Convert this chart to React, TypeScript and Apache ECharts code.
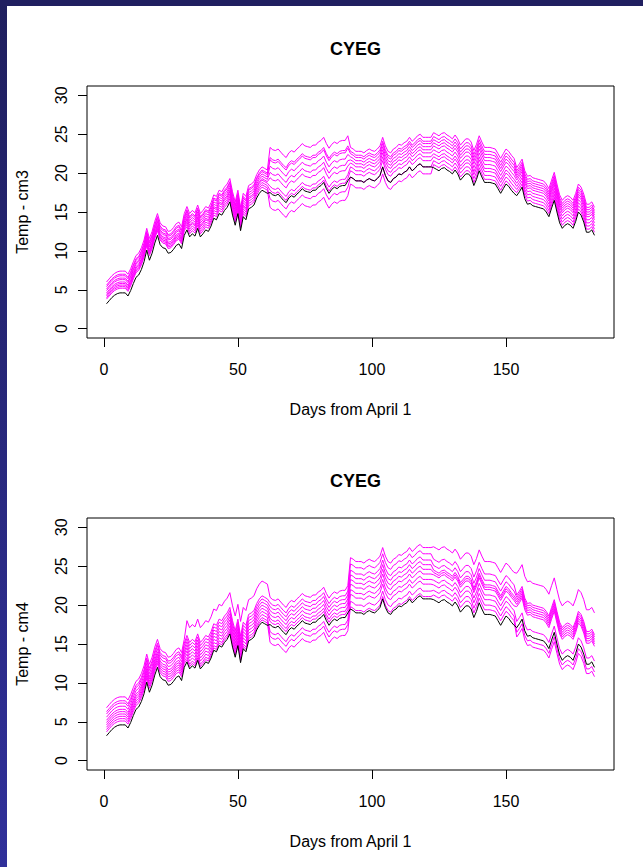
import React, { useEffect, useRef } from "react";
import * as echarts from "echarts";

// Observed daily temperature (black line), days 1..183 from April 1
const observed = [
  3.2, 3.6, 4.0, 4.3, 4.5, 4.6, 4.6, 4.6, 4.2, 4.9,
  5.8, 6.6, 6.9, 7.6, 8.6, 10.1, 8.8, 9.7, 11.0, 12.0,
  10.8, 10.4, 10.3, 9.7, 9.8, 10.2, 10.7, 10.9, 10.3, 12.0,
  12.7, 11.8, 12.2, 11.9, 12.9, 11.8, 12.2, 12.7, 12.5, 13.2,
  14.2, 14.0, 14.8, 14.6, 15.2, 15.6, 16.3, 14.6, 13.3, 14.8,
  12.6, 14.4, 14.0, 15.4, 15.6, 15.9, 16.8, 17.4, 17.8, 17.6,
  17.4, 17.5, 17.2, 17.1, 17.3, 16.9, 16.5, 16.2, 16.8, 17.1,
  16.9, 17.3, 17.6, 18.0, 17.7, 17.6, 17.5, 17.8, 17.8, 18.2,
  18.4, 18.8, 18.0, 17.4, 17.9, 18.2, 18.0, 18.3, 18.4, 18.4,
  19.0, 19.5, 19.3, 19.0, 19.0, 19.0, 18.8, 19.1, 19.3, 19.1,
  19.0, 19.3, 19.7, 20.8, 19.7, 19.0, 18.8, 19.3, 19.5, 19.9,
  19.8, 20.1, 20.3, 20.8, 20.3, 20.6, 21.0, 21.2, 20.8, 20.8,
  20.8, 20.8, 20.7, 20.5, 20.3, 20.6, 20.7, 20.4, 20.2, 19.9,
  20.4, 19.9, 19.1, 19.5, 19.9, 19.9, 19.5, 18.4, 19.2, 20.3,
  19.5, 18.8, 18.8, 18.8, 18.7, 18.6, 18.0, 17.4, 18.0, 18.6,
  18.3, 17.8, 17.4, 17.1, 17.6, 18.2, 16.7, 16.0, 16.1, 15.8,
  15.7, 15.6, 15.5, 15.4, 15.0, 14.4, 15.5, 16.5, 15.0, 13.6,
  12.9, 13.3, 13.5, 13.3, 12.9, 13.8, 15.0, 14.6, 13.7, 12.4,
  12.4, 12.7, 12.0,
];

// Last day of each month (Apr..Sep), counted from April 1
const monthEnds = [30, 61, 91, 122, 153, 183];

// Monthly change (deg) per scenario, Apr..Sep
const deltasCm3 = [
  [2.8, 3.0, 5.8, 3.8, 4.5, 3.6],
  [2.4, 2.6, 4.5, 3.3, 4.0, 3.2],
  [2.2, 2.4, 4.2, 3.0, 3.6, 2.9],
  [1.9, 2.1, 3.4, 2.6, 3.2, 2.6],
  [1.7, 1.8, 2.6, 2.2, 2.8, 2.3],
  [1.4, 1.5, 1.9, 1.8, 2.3, 2.0],
  [1.2, 1.3, 0.8, 1.3, 1.8, 1.6],
  [1.0, 1.0, 0.3, 0.8, 1.4, 1.2],
  [0.8, 0.7, -0.8, 0.0, 0.9, 0.8],
  [0.6, 0.4, -1.9, -0.9, 0.4, 0.4],
];
const deltasCm4 = [
  [3.6, 5.3, 3.5, 6.6, 6.8, 7.0],
  [3.1, 3.4, 2.8, 5.8, 5.2, 4.2],
  [2.8, 3.0, 2.3, 5.0, 4.4, 3.9],
  [2.4, 2.6, 1.8, 4.4, 3.8, 3.6],
  [2.0, 2.2, 1.3, 3.8, 3.5, 3.3],
  [1.7, 1.8, 0.8, 3.2, 3.2, 3.0],
  [1.4, 1.4, 0.4, 2.5, 2.5, 2.7],
  [1.1, 1.0, -0.9, 1.9, 1.9, 0.8],
  [0.8, 0.6, -1.5, 1.0, 1.2, -0.6],
  [0.5, 0.3, -2.3, 0.3, 0.6, -1.2],
];

const xTicks = [0, 50, 100, 150];
const yTicks = [0, 5, 10, 15, 20, 25, 30];
const titles = ["CYEG", "CYEG"];
const yNames = ["Temp - cm3", "Temp - cm4"];
const xName = "Days from April 1";

const FONT = "'Liberation Sans', Arial, Helvetica, sans-serif";

function monthOf(day: number) {
  for (let m = 0; m < monthEnds.length; m++) if (day <= monthEnds[m]) return m;
  return monthEnds.length - 1;
}

export default function App() {
  const ref = useRef<HTMLDivElement>(null);
  useEffect(() => {
    if (!ref.current) return;
    const chart = echarts.init(ref.current, null, { renderer: "svg" });
    const panels = [deltasCm3, deltasCm4];
    const tops = [86, 518];
    const grids: any[] = [];
    const xAxes: any[] = [];
    const yAxes: any[] = [];
    const series: any[] = [];
    const title: any[] = [];
    panels.forEach((deltas, p) => {
      grids.push({
        left: 87, top: tops[p], width: 527, height: 252,
        show: true, borderColor: "#000", borderWidth: 1, backgroundColor: "transparent",
      });
      title.push({
        text: titles[p], left: 350.5, top: tops[p] - 51, textAlign: "center",
        textStyle: { fontFamily: FONT, fontSize: 18, fontWeight: "bold", color: "#000" },
      });
      xAxes.push({
        gridIndex: p, type: "value", min: -6.28, max: 190.28,
        splitLine: { show: false }, axisLine: { show: false, onZero: false },
        axisTick: { show: true, customValues: xTicks, length: 9, lineStyle: { color: "#000" } },
        axisLabel: { customValues: xTicks, margin: 23, color: "#000", fontSize: 16, fontFamily: FONT },
        name: xName, nameLocation: "middle", nameGap: 63,
        nameTextStyle: { color: "#000", fontSize: 16, fontFamily: FONT },
      });
      yAxes.push({
        gridIndex: p, type: "value", min: -1.2, max: 31.2,
        splitLine: { show: false }, axisLine: { show: false, onZero: false },
        axisTick: { show: true, customValues: yTicks, length: 9, lineStyle: { color: "#000" } },
        axisLabel: { customValues: yTicks, rotate: 90, margin: 18, color: "#000", fontSize: 16, fontFamily: FONT },
        name: yNames[p], nameLocation: "middle", nameGap: 57,
        nameTextStyle: { color: "#000", fontSize: 16, fontFamily: FONT },
      });
      deltas.forEach((d) => {
        series.push({
          type: "line", xAxisIndex: p, yAxisIndex: p, showSymbol: false, silent: true,
          lineStyle: { color: "#ff00ff", width: 1 },
          data: observed.map((v, i) => [i + 1, +(v + d[monthOf(i + 1)]).toFixed(2)]),
        });
      });
      series.push({
        type: "line", xAxisIndex: p, yAxisIndex: p, showSymbol: false, silent: true,
        lineStyle: { color: "#000", width: 1 }, z: 5,
        data: observed.map((v, i) => [i + 1, v]),
      });
    });
    chart.setOption({
      animation: false,
      backgroundColor: "#fff",
      title,
      grid: grids,
      xAxis: xAxes,
      yAxis: yAxes,
      series,
      graphic: [
        {
          type: "rect", left: 0, top: 0, shape: { x: 0, y: 0, width: 7, height: 867 }, silent: true,
          style: {
            fill: new echarts.graphic.LinearGradient(0, 0, 0, 1, [
              { offset: 0, color: "#1f1f5e" },
              { offset: 1, color: "#30309a" },
            ]),
          },
        },
        {
          type: "rect", left: 0, top: 0, shape: { x: 0, y: 0, width: 643, height: 6 }, silent: true,
          style: { fill: "#201f60" },
        },
      ],
    });
    return () => chart.dispose();
  }, []);
  return (
    <div
      ref={ref}
      style={{ position: "fixed", left: 0, top: 0, width: 643, height: 867 }}
    />
  );
}
